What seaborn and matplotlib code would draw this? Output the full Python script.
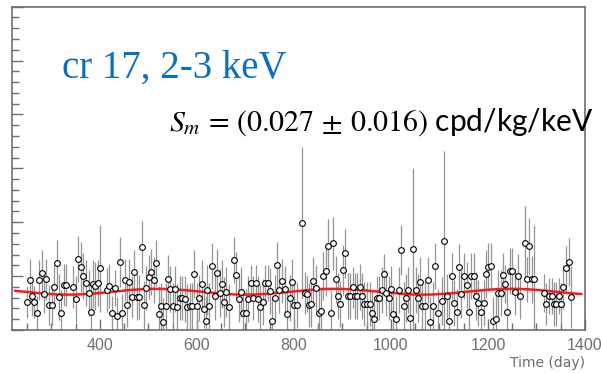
import numpy as np
import matplotlib
matplotlib.use("Agg")
import matplotlib.pyplot as plt
from matplotlib.ticker import MultipleLocator
import pandas as pd
import seaborn as sns

# residual rate per time bin (cpd/kg/keV)
day = [250, 256, 261, 265, 270, 275, 280, 285, 290, 296, 301, 305, 311, 316, 321, 326, 331,
       345, 351, 356, 361, 366, 371, 377, 381, 385, 390, 396, 400, 414, 419, 425, 432, 436,
       441, 446, 451, 456, 461, 466, 471, 476, 480, 486, 491, 496, 501, 506, 511, 516, 521,
       526, 530, 536, 541, 545, 550, 555, 560, 565, 570, 575, 580, 585, 590, 595, 600, 605,
       610, 615, 618, 621, 626, 631, 637, 641, 647, 651, 656, 661, 666, 676, 680, 686, 691,
       696, 701, 706, 711, 716, 721, 726, 731, 736, 741, 746, 751, 755, 761, 765, 770, 776,
       781, 785, 791, 796, 801, 806, 816, 822, 827, 831, 836, 840, 846, 851, 856, 861, 866,
       871, 876, 881, 886, 891, 896, 901, 905, 911, 916, 921, 926, 931, 936, 941, 945, 951,
       956, 960, 966, 971, 975, 981, 985, 990, 995, 1001, 1005, 1010, 1016, 1021, 1026, 1031,
       1036, 1040, 1045, 1051, 1056, 1060, 1065, 1071, 1076, 1080, 1086, 1091, 1096, 1105,
       1110, 1115, 1120, 1126, 1131, 1136, 1141, 1145, 1150, 1156, 1161, 1165, 1171, 1176,
       1180, 1185, 1191, 1196, 1201, 1206, 1211, 1216, 1221, 1226, 1231, 1235, 1240, 1246,
       1250, 1255, 1261, 1266, 1276, 1281, 1285, 1290, 1295, 1316, 1320, 1325, 1331, 1336,
       1340, 1346, 1351, 1355, 1360, 1366, 1371]
rate = [0.262, 0.463, 0.315, 0.259, 0.155, 0.463, 0.531, 0.333, 0.469, 0.231, 0.231, 0.395,
        0.623, 0.308, 0.155, 0.417, 0.417, 0.401, 0.284, 0.655, 0.586, 0.500, 0.432, 0.340,
        0.169, 0.426, 0.407, 0.432, 0.571, 0.370, 0.407, 0.155, 0.386, 0.130, 0.630, 0.160,
        0.463, 0.229, 0.444, 0.308, 0.540, 0.308, 0.308, 0.771, 0.229, 0.386, 0.488, 0.540,
        0.463, 0.623, 0.145, 0.222, 0.074, 0.222, 0.475, 0.377, 0.222, 0.377, 0.216, 0.294,
        0.294, 0.284, 0.216, 0.222, 0.222, 0.519, 0.222, 0.294, 0.426, 0.192, 0.081, 0.370,
        0.222, 0.593, 0.315, 0.531, 0.345, 0.426, 0.262, 0.355, 0.216, 0.648, 0.509, 0.284,
        0.355, 0.160, 0.155, 0.284, 0.432, 0.294, 0.432, 0.284, 0.216, 0.262, 0.432, 0.432,
        0.361, 0.081, 0.299, 0.602, 0.370, 0.456, 0.377, 0.145, 0.299, 0.447, 0.231, 0.231,
        0.994, 0.345, 0.331, 0.231, 0.238, 0.456, 0.386, 0.155, 0.176, 0.500, 0.546, 0.778,
        0.160, 0.803, 0.469, 0.315, 0.238, 0.556, 0.710, 0.315, 0.315, 0.395, 0.315, 0.315,
        0.401, 0.315, 0.241, 0.241, 0.241, 0.160, 0.102, 0.294, 0.294, 0.370, 0.519, 0.340,
        0.294, 0.377, 0.145, 0.099, 0.370, 0.741, 0.222, 0.299, 0.370, 0.108, 0.756, 0.370,
        0.299, 0.447, 0.222, 0.222, 0.463, 0.077, 0.222, 0.595, 0.160, 0.271, 0.827, 0.318,
        0.086, 0.500, 0.253, 0.169, 0.586, 0.333, 0.500, 0.417, 0.169, 0.500, 0.500, 0.315,
        0.253, 0.169, 0.253, 0.516, 0.586, 0.593, 0.083, 0.105, 0.340, 0.340, 0.506, 0.423,
        0.167, 0.546, 0.546, 0.355, 0.500, 0.315, 0.803, 0.469, 0.778, 0.469, 0.469, 0.345,
        0.241, 0.315, 0.315, 0.241, 0.241, 0.315, 0.241, 0.401, 0.571, 0.632, 0.303]
err = [0.148, 0.194, 0.185, 0.148, 0.157, 0.185, 0.213, 0.176, 0.194, 0.185, 0.185, 0.204,
       0.213, 0.213, 0.213, 0.194, 0.194, 0.194, 0.213, 0.213, 0.231, 0.213, 0.213, 0.213,
       0.241, 0.222, 0.222, 0.213, 0.407, 0.204, 0.204, 0.157, 0.167, 0.176, 0.231, 0.176,
       0.194, 0.204, 0.213, 0.194, 0.204, 0.213, 0.204, 0.241, 0.222, 0.204, 0.204, 0.213,
       0.213, 0.213, 0.259, 0.213, 0.222, 0.213, 0.222, 0.213, 0.213, 0.213, 0.213, 0.204,
       0.204, 0.213, 0.213, 0.213, 0.213, 0.222, 0.213, 0.213, 0.222, 0.176, 0.231, 0.231,
       0.213, 0.213, 0.222, 0.222, 0.222, 0.222, 0.231, 0.231, 0.213, 0.213, 0.213, 0.213,
       0.231, 0.222, 0.222, 0.213, 0.167, 0.204, 0.167, 0.213, 0.213, 0.213, 0.167, 0.167,
       0.213, 0.231, 0.213, 0.213, 0.213, 0.204, 0.213, 0.222, 0.213, 0.213, 0.213, 0.213,
       0.704, 0.194, 0.167, 0.204, 0.213, 0.222, 0.213, 0.222, 0.222, 0.222, 0.231, 0.250,
       0.213, 0.250, 0.222, 0.213, 0.213, 0.231, 0.231, 0.213, 0.213, 0.194, 0.213, 0.213,
       0.213, 0.213, 0.204, 0.204, 0.204, 0.213, 0.204, 0.204, 0.204, 0.213, 0.185, 0.213,
       0.204, 0.213, 0.222, 0.213, 0.213, 0.231, 0.222, 0.222, 0.213, 0.231, 0.750, 0.213,
       0.222, 0.231, 0.222, 0.222, 0.213, 0.231, 0.222, 0.213, 0.222, 0.222, 0.833, 0.204,
       0.222, 0.213, 0.213, 0.213, 0.213, 0.222, 0.213, 0.213, 0.213, 0.213, 0.213, 0.222,
       0.213, 0.213, 0.213, 0.222, 0.222, 0.213, 0.222, 0.222, 0.213, 0.213, 0.204, 0.176,
       0.222, 0.213, 0.213, 0.213, 0.204, 0.213, 0.352, 0.213, 0.259, 0.222, 0.509, 0.176,
       0.194, 0.167, 0.167, 0.204, 0.204, 0.167, 0.194, 0.204, 0.213, 0.222, 0.287]

# fitted modulation: base + Sm*cos(2pi(t - t0)/T)
base = 0.355
sm = 0.027
t0 = 152.5
period = 365.25
fit_range = (225, 1393)

df = pd.DataFrame({"day": day, "rate": rate, "err": err})

sns.set_style("white")
plt.rcParams["mathtext.fontset"] = "stix"

fig = plt.figure(figsize=(6.01, 3.73), dpi=100)
ax = fig.add_axes([12 / 601, 1 - 330 / 373, 573 / 601, 323.3 / 373])

ax.errorbar(df["day"], df["rate"], yerr=df["err"], fmt="none",
            ecolor="#959595", elinewidth=0.9, capsize=0, zorder=1)

t = np.linspace(fit_range[0], fit_range[1], 500)
fit = pd.DataFrame({"day": t, "rate": base + sm * np.cos(2 * np.pi * (t - t0) / period)})
sns.lineplot(data=fit, x="day", y="rate", color="#f51c1c", linewidth=1.8, ax=ax, zorder=2)

sns.scatterplot(data=df, x="day", y="rate", marker="o", s=17, facecolor="white",
                edgecolor="black", linewidth=0.8, ax=ax, zorder=3)

ax.set_xlim(219, 1400)
ax.set_ylim(0, 3)
ax.xaxis.set_major_locator(MultipleLocator(200))
ax.xaxis.set_minor_locator(MultipleLocator(50))
ax.yaxis.set_major_locator(MultipleLocator(0.5))
ax.yaxis.set_minor_locator(MultipleLocator(0.1))
ax.tick_params(which="both", direction="in", colors="#6e6e6e", top=False, right=False,
               left=True, bottom=True, width=1.0)
ax.tick_params(which="major", length=8)
ax.tick_params(which="minor", length=5)
ax.tick_params(axis="x", labelsize=11.5, labelcolor="#707070", pad=6)
ax.set_yticklabels([])
for lab in ax.get_xticklabels():
    lab.set_family("Liberation Sans")
ax.set_xlabel("")
ax.set_ylabel("")
for sp in ax.spines.values():
    sp.set_color("#6e6e6e")
    sp.set_linewidth(1.2)

fig.text(62 / 601, 1 - 78 / 373, "cr 17, 2-3 keV", color="#0a6fc2",
         family="Liberation Serif", fontsize=28, va="baseline")
fig.text(169 / 601, 1 - 131 / 373, r"$S_m\,=\,(0.027\,\pm\,0.016)$ cpd/kg/keV",
         color="black", family="Lato", fontsize=21.5, va="baseline")
fig.text(585 / 601, 1 - 363 / 373, "Time (day)", color="#6e6e6e",
         family="DejaVu Sans", fontsize=10, ha="right", va="center")

fig.savefig("out.png", dpi=100)
